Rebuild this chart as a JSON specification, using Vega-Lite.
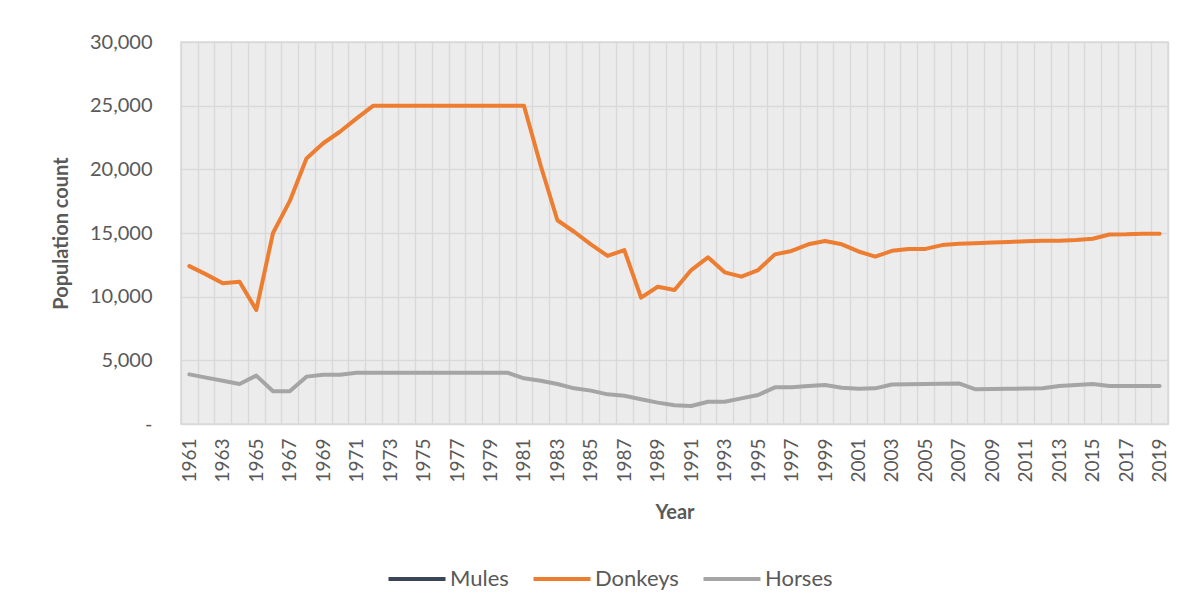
{
  "$schema": "https://vega.github.io/schema/vega-lite/v6.json",
  "width": 987,
  "height": 382,
  "autosize": {"type": "none"},
  "padding": {"left": 181, "top": 42, "right": 14, "bottom": 188},
  "background": "white",
  "config": {
    "font": "Lato",
    "view": {"fill": "#ececec", "stroke": "#d9d9d9", "strokeWidth": 1.5}
  },
  "data": {
    "values": [
      {"year": 1961, "series": "Donkeys", "value": 12400},
      {"year": 1962, "series": "Donkeys", "value": 11750},
      {"year": 1963, "series": "Donkeys", "value": 11050},
      {"year": 1964, "series": "Donkeys", "value": 11180},
      {"year": 1965, "series": "Donkeys", "value": 8950},
      {"year": 1966, "series": "Donkeys", "value": 15000},
      {"year": 1967, "series": "Donkeys", "value": 17500},
      {"year": 1968, "series": "Donkeys", "value": 20850},
      {"year": 1969, "series": "Donkeys", "value": 22050},
      {"year": 1970, "series": "Donkeys", "value": 22950},
      {"year": 1971, "series": "Donkeys", "value": 24000},
      {"year": 1972, "series": "Donkeys", "value": 25000},
      {"year": 1973, "series": "Donkeys", "value": 25000},
      {"year": 1974, "series": "Donkeys", "value": 25000},
      {"year": 1975, "series": "Donkeys", "value": 25000},
      {"year": 1976, "series": "Donkeys", "value": 25000},
      {"year": 1977, "series": "Donkeys", "value": 25000},
      {"year": 1978, "series": "Donkeys", "value": 25000},
      {"year": 1979, "series": "Donkeys", "value": 25000},
      {"year": 1980, "series": "Donkeys", "value": 25000},
      {"year": 1981, "series": "Donkeys", "value": 25000},
      {"year": 1982, "series": "Donkeys", "value": 20300},
      {"year": 1983, "series": "Donkeys", "value": 16000},
      {"year": 1984, "series": "Donkeys", "value": 15100},
      {"year": 1985, "series": "Donkeys", "value": 14100},
      {"year": 1986, "series": "Donkeys", "value": 13200},
      {"year": 1987, "series": "Donkeys", "value": 13660},
      {"year": 1988, "series": "Donkeys", "value": 9920},
      {"year": 1989, "series": "Donkeys", "value": 10780},
      {"year": 1990, "series": "Donkeys", "value": 10520},
      {"year": 1991, "series": "Donkeys", "value": 12090},
      {"year": 1992, "series": "Donkeys", "value": 13090},
      {"year": 1993, "series": "Donkeys", "value": 11910},
      {"year": 1994, "series": "Donkeys", "value": 11570},
      {"year": 1995, "series": "Donkeys", "value": 12090},
      {"year": 1996, "series": "Donkeys", "value": 13320},
      {"year": 1997, "series": "Donkeys", "value": 13590},
      {"year": 1998, "series": "Donkeys", "value": 14110},
      {"year": 1999, "series": "Donkeys", "value": 14370},
      {"year": 2000, "series": "Donkeys", "value": 14110},
      {"year": 2001, "series": "Donkeys", "value": 13550},
      {"year": 2002, "series": "Donkeys", "value": 13150},
      {"year": 2003, "series": "Donkeys", "value": 13600},
      {"year": 2004, "series": "Donkeys", "value": 13750},
      {"year": 2005, "series": "Donkeys", "value": 13750},
      {"year": 2006, "series": "Donkeys", "value": 14050},
      {"year": 2007, "series": "Donkeys", "value": 14150},
      {"year": 2008, "series": "Donkeys", "value": 14200},
      {"year": 2009, "series": "Donkeys", "value": 14250},
      {"year": 2010, "series": "Donkeys", "value": 14300},
      {"year": 2011, "series": "Donkeys", "value": 14350},
      {"year": 2012, "series": "Donkeys", "value": 14400},
      {"year": 2013, "series": "Donkeys", "value": 14400},
      {"year": 2014, "series": "Donkeys", "value": 14450},
      {"year": 2015, "series": "Donkeys", "value": 14550},
      {"year": 2016, "series": "Donkeys", "value": 14880},
      {"year": 2017, "series": "Donkeys", "value": 14900},
      {"year": 2018, "series": "Donkeys", "value": 14950},
      {"year": 2019, "series": "Donkeys", "value": 14950},
      {"year": 1961, "series": "Horses", "value": 3900},
      {"year": 1962, "series": "Horses", "value": 3640},
      {"year": 1963, "series": "Horses", "value": 3400},
      {"year": 1964, "series": "Horses", "value": 3140},
      {"year": 1965, "series": "Horses", "value": 3800},
      {"year": 1966, "series": "Horses", "value": 2570},
      {"year": 1967, "series": "Horses", "value": 2570},
      {"year": 1968, "series": "Horses", "value": 3720},
      {"year": 1969, "series": "Horses", "value": 3870},
      {"year": 1970, "series": "Horses", "value": 3870},
      {"year": 1971, "series": "Horses", "value": 4030},
      {"year": 1972, "series": "Horses", "value": 4030},
      {"year": 1973, "series": "Horses", "value": 4030},
      {"year": 1974, "series": "Horses", "value": 4030},
      {"year": 1975, "series": "Horses", "value": 4030},
      {"year": 1976, "series": "Horses", "value": 4030},
      {"year": 1977, "series": "Horses", "value": 4030},
      {"year": 1978, "series": "Horses", "value": 4030},
      {"year": 1979, "series": "Horses", "value": 4030},
      {"year": 1980, "series": "Horses", "value": 4030},
      {"year": 1981, "series": "Horses", "value": 3590},
      {"year": 1982, "series": "Horses", "value": 3400},
      {"year": 1983, "series": "Horses", "value": 3140},
      {"year": 1984, "series": "Horses", "value": 2800},
      {"year": 1985, "series": "Horses", "value": 2620},
      {"year": 1986, "series": "Horses", "value": 2330},
      {"year": 1987, "series": "Horses", "value": 2220},
      {"year": 1988, "series": "Horses", "value": 1940},
      {"year": 1989, "series": "Horses", "value": 1680},
      {"year": 1990, "series": "Horses", "value": 1470},
      {"year": 1991, "series": "Horses", "value": 1410},
      {"year": 1992, "series": "Horses", "value": 1750},
      {"year": 1993, "series": "Horses", "value": 1750},
      {"year": 1994, "series": "Horses", "value": 2010},
      {"year": 1995, "series": "Horses", "value": 2280},
      {"year": 1996, "series": "Horses", "value": 2880},
      {"year": 1997, "series": "Horses", "value": 2880},
      {"year": 1998, "series": "Horses", "value": 2980},
      {"year": 1999, "series": "Horses", "value": 3060},
      {"year": 2000, "series": "Horses", "value": 2850},
      {"year": 2001, "series": "Horses", "value": 2770},
      {"year": 2002, "series": "Horses", "value": 2800},
      {"year": 2003, "series": "Horses", "value": 3100},
      {"year": 2004, "series": "Horses", "value": 3120},
      {"year": 2005, "series": "Horses", "value": 3140},
      {"year": 2006, "series": "Horses", "value": 3160},
      {"year": 2007, "series": "Horses", "value": 3190},
      {"year": 2008, "series": "Horses", "value": 2720},
      {"year": 2009, "series": "Horses", "value": 2750},
      {"year": 2010, "series": "Horses", "value": 2770},
      {"year": 2011, "series": "Horses", "value": 2780},
      {"year": 2012, "series": "Horses", "value": 2800},
      {"year": 2013, "series": "Horses", "value": 2980},
      {"year": 2014, "series": "Horses", "value": 3060},
      {"year": 2015, "series": "Horses", "value": 3140},
      {"year": 2016, "series": "Horses", "value": 2980},
      {"year": 2017, "series": "Horses", "value": 2980},
      {"year": 2018, "series": "Horses", "value": 2980},
      {"year": 2019, "series": "Horses", "value": 2980}
    ]
  },
  "mark": {"type": "line", "strokeWidth": 4, "strokeJoin": "round", "strokeCap": "round"},
  "encoding": {
    "x": {
      "field": "year",
      "type": "ordinal",
      "scale": {"paddingInner": 0, "paddingOuter": 0},
      "axis": {
        "title": "Year",
        "titleFontSize": 20,
        "titleFontWeight": "bold",
        "titleColor": "#595959",
        "titlePadding": 20,
        "labelAngle": -90,
        "labelFontSize": 19,
        "labelColor": "#595959",
        "labelPadding": 14,
        "labelOverlap": false,
        "labelExpr": "(datum.value - 1961) % 2 == 0 ? datum.label : ''",
        "ticks": false,
        "domain": false,
        "grid": true,
        "tickBand": "extent",
        "gridColor": "#d9d9d9",
        "gridWidth": 1.5
      }
    },
    "y": {
      "field": "value",
      "type": "quantitative",
      "scale": {"domain": [0, 30000], "nice": false},
      "axis": {
        "title": "Population count",
        "titleFontSize": 20,
        "titleFontWeight": "bold",
        "titleColor": "#595959",
        "titlePadding": 18,
        "values": [0, 5000, 10000, 15000, 20000, 25000, 30000],
        "labelExpr": "datum.value == 0 ? '-' : format(datum.value, ',')",
        "labelFontSize": 20,
        "labelColor": "#595959",
        "labelPadding": 29,
        "ticks": false,
        "domain": false,
        "grid": true,
        "gridColor": "#d9d9d9",
        "gridWidth": 1.5
      }
    },
    "color": {
      "field": "series",
      "type": "nominal",
      "scale": {"domain": ["Mules", "Donkeys", "Horses"], "range": ["#3a4658", "#ed7d31", "#a5a5a5"]},
      "legend": {
        "title": null,
        "orient": "none",
        "direction": "horizontal",
        "legendX": 205,
        "legendY": 506,
        "symbolType": "stroke",
        "symbolStrokeWidth": 4,
        "symbolSize": 3250,
        "labelFontSize": 22,
        "labelColor": "#595959",
        "labelOffset": 2,
        "columnPadding": 16
      }
    }
  }
}
